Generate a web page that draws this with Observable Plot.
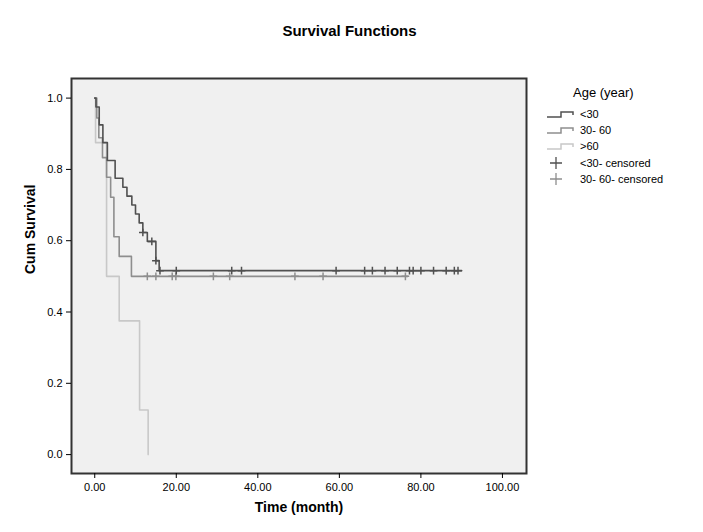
<!DOCTYPE html>
<html>
<head>
<meta charset="utf-8">
<script src="https://cdn.jsdelivr.net/npm/d3@7"></script>
<script src="https://cdn.jsdelivr.net/npm/@observablehq/plot@0.6"></script>
<style>
  body { margin: 0; background: #fff; font-family: "Liberation Sans", Arial, sans-serif; }
  #wrap { position: relative; width: 703px; height: 532px; overflow: hidden; }
  #title { position: absolute; left: 0; width: 699px; top: 22px; text-align: center; font-weight: bold; font-size: 15px; }
  #chart { position: absolute; left: 0; top: 0; }
  #legend { position: absolute; left: 0; top: 0; }
</style>
</head>
<body>
<div id="wrap">
  <div id="chart"></div>
  <div id="title">Survival Functions</div>
  <svg id="legend" width="703" height="532"></svg>
</div>
<script>
// ---- Data ----
const groups = ["<30", "30- 60", ">60"];

// Kaplan-Meier step points: time (month) and cumulative survival
const lt30Time = [0, 0.3, 1.1, 2.0, 3.1, 5.0, 6.9, 7.9, 9.1, 10.0, 10.9, 11.8, 12.9, 15.0, 15.8, 90.0];
const lt30Surv = [1.0, 0.975, 0.925, 0.875, 0.825, 0.775, 0.75, 0.725, 0.70, 0.675, 0.65, 0.623, 0.598, 0.544, 0.516, 0.516];

const mid3060Time = [0, 0.5, 1.0, 1.9, 2.9, 3.9, 4.7, 6.0, 9.0, 76.8];
const mid3060Surv = [1.0, 0.944, 0.889, 0.833, 0.778, 0.722, 0.611, 0.556, 0.5, 0.5];

const gt60Time = [0, 0.2, 2.9, 6.0, 11.0, 13.1];
const gt60Surv = [1.0, 0.875, 0.5, 0.375, 0.125, 0.0];

// Censored observations
const lt30CensTime = [11.8, 14.0, 15.0, 16.0, 20.0, 33.6, 36.0, 59.2, 66.2, 68.1, 71.2, 74.2, 77.2, 78.1, 80.0, 83.1, 86.2, 88.2, 89.1];
const lt30CensSurv = [0.623, 0.598, 0.544, 0.516, 0.516, 0.516, 0.516, 0.516, 0.516, 0.516, 0.516, 0.516, 0.516, 0.516, 0.516, 0.516, 0.516, 0.516, 0.516];

const mid3060CensTime = [12.9, 15.0, 19.0, 19.9, 29.1, 33.1, 49.1, 56.0, 76.2];
const mid3060CensSurv = [0.5, 0.5, 0.5, 0.5, 0.5, 0.5, 0.5, 0.5, 0.5];

const xTicks = [0, 20, 40, 60, 80, 100];
const yTicks = [0, 0.2, 0.4, 0.6, 0.8, 1.0];
const legendLabels = ["<30", "30- 60", ">60", "<30- censored", "30- 60- censored"];

// ---- Build tables ----
const toRows = (g, ts, ss) => ts.map((t, i) => ({group: g, time: t, surv: ss[i]}));
const curves = [
  ...toRows(">60", gt60Time, gt60Surv),
  ...toRows("30- 60", mid3060Time, mid3060Surv),
  ...toRows("<30", lt30Time, lt30Surv)
];
const censored = [
  ...toRows("30- 60", mid3060CensTime, mid3060CensSurv),
  ...toRows("<30", lt30CensTime, lt30CensSurv)
];

const colors = {"<30": "#505050", "30- 60": "#8e8e8e", ">60": "#c8c8c8"};

const chart = Plot.plot({
  width: 703,
  height: 532,
  marginTop: 78,
  marginLeft: 71,
  marginRight: 177,
  marginBottom: 59,
  style: {background: "transparent", fontFamily: "'Liberation Sans', Arial, sans-serif", fontSize: "11px", color: "#000"},
  x: {domain: [-5.7, 105.9]},
  y: {domain: [-0.053, 1.055]},
  color: {domain: groups, range: groups.map(g => colors[g])},
  marks: [
    Plot.frame({fill: "#f0f0f0"}),
    Plot.line(curves, {x: "time", y: "surv", z: "group", stroke: "group", curve: "step-after", strokeWidth: 1.6}),
    Plot.dot(censored, {x: "time", y: "surv", stroke: "group", symbol: "plus", r: 2.6, strokeWidth: 1.5}),
    Plot.frame({stroke: "#333", strokeWidth: 2}),
    Plot.axisX({ticks: xTicks, tickFormat: d => d.toFixed(2), tickSize: 5, tickPadding: 5, label: null, stroke: "#000"}),
    Plot.axisY({ticks: yTicks, tickFormat: d => d.toFixed(1), tickSize: 5, tickPadding: 4, label: null, stroke: "#000"}),
    Plot.text(["Time (month)"], {frameAnchor: "bottom", dy: 38, fontSize: 14, fontWeight: "bold", fill: "#000"}),
    Plot.text(["Cum Survival"], {frameAnchor: "left", dx: -41, dy: -2, rotate: -90, fontSize: 14, fontWeight: "bold", fill: "#000"})
  ]
});
document.getElementById("chart").appendChild(chart);

// ---- Legend ----
const lg = d3.select("#legend");
lg.append("text").attr("x", 573).attr("y", 97).attr("font-size", 13).attr("font-family", "'Liberation Sans', Arial").text("Age (year)");
const rowY = [114, 130, 146, 163, 179];
legendLabels.forEach((lab, i) => {
  const y = rowY[i];
  if (i < 3) {
    const c = colors[groups[i]];
    lg.append("path").attr("d", `M547,${y+3}H561V${y-2}H573V${y+1}`).attr("fill", "none").attr("stroke", c).attr("stroke-width", 1.5);
  } else {
    const c = colors[groups[i - 3]];
    lg.append("path").attr("d", `M550,${y}H562M556,${y-6}V${y+6}`).attr("fill", "none").attr("stroke", c).attr("stroke-width", 1.3);
  }
  lg.append("text").attr("x", 580).attr("y", y + 4).attr("font-size", 11).attr("font-family", "'Liberation Sans', Arial").text(lab);
});
</script>
</body>
</html>
